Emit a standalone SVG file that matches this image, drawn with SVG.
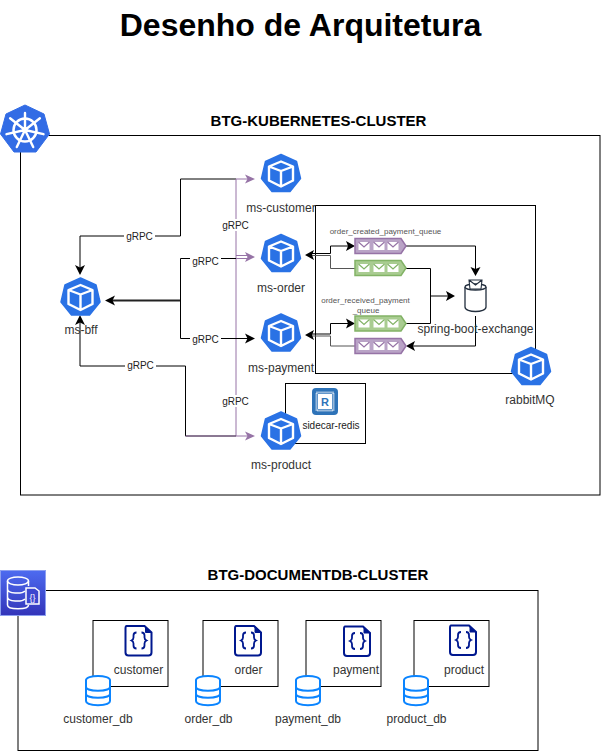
<svg xmlns="http://www.w3.org/2000/svg" width="601" height="751" viewBox="0 0 601 751">
<style>
text{font-family:"Liberation Sans",Arial,sans-serif;fill:#1a1a1a;text-anchor:middle}
.t{font-size:12px;fill:#333}
.g{font-size:10px;fill:#222}
.h{font-size:15px;font-weight:bold;fill:#000}
.q{font-size:8px;fill:#555}
.box{fill:none;stroke:#000;stroke-width:1}
.ln{fill:none;stroke:#000;stroke-width:1}
.gr{fill:none;stroke:#555;stroke-width:1}
.pu{fill:none;stroke:#9673a6;stroke-width:1}
.lb{fill:#fff;stroke:none}
.ah{fill:#000}
.ap{fill:#9673a6}
</style>
<defs>
<linearGradient id="ddb" x1="0" y1="0" x2="0" y2="1"><stop offset="0" stop-color="#4d6bf0"/><stop offset="1" stop-color="#3334b9"/></linearGradient>
<g id="kube">
<path d="M0-19 L15.500-12 L19.500 5 L9 18 L-9 18 L-19.500 5 L-15.500-12Z" fill="#2a72e5" stroke="#2a72e5" stroke-width="1.500" stroke-linejoin="round"/>
<path d="M0-12 L12-7 L12 7 L0 13 L-12 7 L-12-7Z M0-2.500 L0 13 M-12-7 L0-2.500 L12-7" fill="none" stroke="#fff" stroke-width="2.400" stroke-linejoin="round"/>
</g>
<g id="env">
<rect x="-5.500" y="-4" width="11" height="8" fill="#fff"/>
<path d="M-5.500-4 L0 1 L5.500-4" fill="none" stroke="currentColor" stroke-width="1.200"/>
</g>
<g id="qp" color="#9673a6">
<path d="M0 0 H46 L51 7.500 L46 15 H0Z" fill="#b9a3c6" stroke="#9673a6" stroke-width="1.500"/>
<use href="#env" x="9" y="7.500"/><use href="#env" x="24" y="7.500"/><use href="#env" x="38" y="7.500"/>
</g>
<g id="qg" color="#82b366">
<path d="M0 0 H46 L51 7.500 L46 15 H0Z" fill="#a9cc91" stroke="#82b366" stroke-width="1.500"/>
<use href="#env" x="9" y="7.500"/><use href="#env" x="24" y="7.500"/><use href="#env" x="38" y="7.500"/>
</g>
<g id="db">
<ellipse cx="0" cy="-10.500" rx="12" ry="4" fill="#fff" stroke="#0a84ff" stroke-width="2"/>
<path d="M-12-10.500 V10.500 C-12 16 12 16 12 10.500 V-10.500 M-12-3.500 C-12 1.500 12 1.500 12-3.500 M-12 3.500 C-12 8.500 12 8.500 12 3.500" fill="#fff" stroke="#0a84ff" stroke-width="2"/>
</g>
<g id="doc">
<path d="M-12-14.500 H6 L13-8 V12 Q13 15 10 15 H-10 Q-13 15 -13 12 V-12 Q-13-14.500 -12-14.500Z" fill="#fff" stroke="#00188f" stroke-width="2"/>
<path d="M7-14 V-8 H13Z" fill="#00188f" stroke="#00188f"/>
<path d="M-2-8 Q-5-8 -5-5 V-3 Q-5-1 -7 0 Q-5 1 -5 3 V5 Q-5 8 -2 8 M3-8 Q6-8 6-5 V-3 Q6-1 8 0 Q6 1 6 3 V5 Q6 8 3 8" fill="none" stroke="#00188f" stroke-width="1.800"/>
</g>
</defs>
<rect width="601" height="751" fill="#fff"/>
<text x="300.500" y="36" style="font-size:32px;font-weight:bold;fill:#000">Desenho de Arquitetura</text>

<g id="kubernetes-cluster">
<rect class="box" x="20.500" y="135.500" width="579.500" height="359.500"/>
<text class="h" x="318.500" y="126">BTG-KUBERNETES-CLUSTER</text>
<path d="M25 105 L44 114 L49.500 134 L36 152 L14 152 L0.500 134 L6 114Z" fill="#326ce5" stroke="#326ce5" stroke-linejoin="round"/>
<g fill="none" stroke="#fff">
<circle cx="25" cy="130" r="11.500" stroke-width="2.500"/>
<circle cx="25" cy="130" r="2.500" fill="#fff" stroke="none"/>
<path d="M25 130 V113 M25 130 L39.900 118.200 M25 130 L43.500 134.200 M25 130 L33.200 147.100 M25 130 L16.800 147.100 M25 130 L6.500 134.200 M25 130 L10.100 118.200" stroke-width="2.400" stroke-linecap="round"/>
</g>
</g>

<g id="rabbitmq-box"><rect class="box" x="315.500" y="205.500" width="220" height="168"/></g>
<g id="redis-box"><rect class="box" x="285.500" y="383.500" width="80" height="60"/></g>
<g id="documentdb-cluster">
<rect class="box" x="18" y="590.500" width="520" height="160"/>
<text class="h" x="318" y="580">BTG-DOCUMENTDB-CLUSTER</text>
</g>

<g id="connectors">
<path class="ln" d="M80 268 V236 H180.500 V179 H236"/>
<path class="pu" d="M236 179 H248"/>
<path class="ah" d="M80 275 L75 265 L80 267.500 L85 265Z"/>
<path class="ap" d="M255 179 L245 174.500 L247.500 179 L245 183.500Z"/>
<path class="pu" d="M236 179 V436"/>
<path d="M112 300.500 H180.500" fill="none" stroke="#222" stroke-width="2"/>
<path class="ah" d="M105 300.500 L115 295.500 L112.500 300.500 L115 305.500Z"/>
<path class="ln" d="M180.500 258.500 V338.500 H249"/>
<path class="ln" d="M180.500 258.500 H236"/>
<path class="pu" d="M236 255.500 H248 M236 258.500 H248"/>
<path class="ap" d="M255 257 L245 252 L247.500 257 L245 262Z"/>
<path class="ah" d="M255 338.500 L245 333.500 L247.500 338.500 L245 343.500Z"/>
<path class="ln" d="M80 322 V366 H185.500 V436 H236"/>
<path class="ah" d="M80 315 L75 325 L80 322.500 L85 325Z"/>
<path class="pu" d="M185.500 436 H248"/>
<path class="ap" d="M255 436 L245 431.500 L247.500 436 L245 440.500Z"/>
<rect class="lb" x="124" y="230" width="31" height="12"/>
<rect class="lb" x="220" y="219" width="31" height="12"/>
<rect class="lb" x="190" y="255" width="31" height="12"/>
<rect class="lb" x="190" y="333" width="31" height="12"/>
<rect class="lb" x="125" y="359" width="31" height="12"/>
<rect class="lb" x="220" y="395" width="31" height="12"/>
<text class="g" x="139.500" y="240">gRPC</text>
<text class="g" x="235.500" y="229">gRPC</text>
<text class="g" x="205.500" y="265">gRPC</text>
<text class="g" x="205.500" y="343">gRPC</text>
<text class="g" x="140.500" y="369">gRPC</text>
<text class="g" x="235.500" y="405">gRPC</text>

<path class="ln" d="M312 253.500 H330.500 V246 H349"/>
<path class="ah" d="M355 246 L346 241 L348 246 L346 251Z"/>
<path class="gr" d="M312 255.500 H330.500 V268.500 H355"/>
<path class="ah" d="M305 255 L314 250 L312 255 L314 260Z"/>
<path class="ln" d="M405 246 H475.500 V269"/>
<path class="ah" d="M475.500 276 L470.500 267 L475.500 269 L480.500 267Z"/>
<path class="ln" d="M405 268.500 H430.500 V323.500 H405"/>
<path class="ln" d="M430.500 296 H449"/>
<path class="ah" d="M455 296 L446 291 L448 296 L446 301Z"/>
<path class="ln" d="M312 334 H330.500 V323.500 H349"/>
<path class="ah" d="M355 323.500 L346 318.500 L348 323.500 L346 328.500Z"/>
<path class="gr" d="M312 336 H330.500 V346 H355"/>
<path class="ah" d="M305 335 L314 330 L312 335 L314 340Z"/>
<path class="ln" d="M475.500 316 V346 H412"/>
<path class="ah" d="M406 346 L415 341 L413 346 L415 351Z"/>
</g>

<g id="ms-customer"><use href="#kube" x="281" y="173.500"/><text class="t" x="281" y="212">ms-customer</text></g>
<g id="ms-order"><use href="#kube" x="281" y="253.500"/><text class="t" x="281" y="292">ms-order</text></g>
<g id="ms-payment"><use href="#kube" x="281" y="333"/><text class="t" x="281" y="372">ms-payment</text></g>
<g id="ms-product"><use href="#kube" x="281" y="431"/><text class="t" x="281" y="469">ms-product</text></g>
<g id="ms-bff"><use href="#kube" x="80.500" y="297"/><text class="t" x="81" y="334">ms-bff</text></g>
<g id="rabbitmq"><use href="#kube" x="531" y="366.500"/><text class="t" x="530" y="404">rabbitMQ</text></g>

<g id="queue-created"><use href="#qp" x="355" y="238.500"/><text class="q" x="385.500" y="234">order_created_payment_queue</text></g>
<g id="queue-green-1"><use href="#qg" x="355" y="260.500"/></g>
<g id="queue-received"><use href="#qg" x="355" y="316"/><text class="q" x="365.500" y="303">order_received_payment</text><text class="q" x="366" y="313">_queue</text></g>
<g id="queue-purple-2"><use href="#qp" x="355" y="338.500"/></g>

<g id="spring-boot-exchange">
<path d="M465 287 V307 C465 313 486 313 486 307 V287" fill="#fff" stroke="#232f3e" stroke-width="1.300"/>
<ellipse cx="475.500" cy="287" rx="10.500" ry="3" fill="#fff" stroke="#232f3e" stroke-width="1.300"/>
<path d="M469 280 H482 L481 289 H470Z M469 280 L475.500 285 L482 280" fill="#fff" stroke="#232f3e" stroke-width="1.100"/>
<text class="t" x="475.500" y="333">spring-boot-exchange</text>
</g>

<g id="sidecar-redis">
<rect x="312" y="388" width="26" height="27" rx="4" fill="#2e73b8"/>
<rect x="316.500" y="392.500" width="17" height="18" fill="none" stroke="#fff" stroke-width="2" stroke-dasharray="1 1"/>
<rect x="318" y="394" width="14" height="15" fill="#fff"/>
<text x="325" y="406" style="font-size:11px;font-weight:bold;fill:#2e73b8">R</text>
<text x="331" y="429" style="font-size:10px;fill:#222">sidecar-redis</text>
</g>

<g id="documentdb-icon">
<rect x="0.500" y="570.500" width="45" height="45" fill="url(#ddb)" stroke="#8c9ff0"/>
<g fill="none" stroke="#fff" stroke-width="1.500">
<ellipse cx="18" cy="581" rx="10.500" ry="4"/>
<path d="M7.500 581 V605 C7.500 610 28.500 610 28.500 605 M7.500 589 C7.500 594 22 594 25 591 M7.500 597 C7.500 602 22 602 25 599 M28.500 581 V586"/>
<path d="M26 591 V604 H39 V591 L35 588 H26Z" fill="#3d47cf"/>
<text x="32.500" y="601" style="font-size:9px;fill:#fff;stroke:none">{}</text>
</g>
</g>

<g id="customer">
<rect class="box" x="93" y="620.500" width="75" height="66"/>
<use href="#doc" x="138.500" y="640.500"/>
<text class="t" x="138.500" y="674">customer</text>
<use href="#db" x="98" y="690.500"/>
<text class="t" x="98" y="723">customer_db</text>
</g>
<g id="order">
<rect class="box" x="203" y="620.500" width="75" height="66"/>
<use href="#doc" x="248" y="640.500"/>
<text class="t" x="248.500" y="674">order</text>
<use href="#db" x="208" y="690.500"/>
<text class="t" x="208.500" y="723">order_db</text>
</g>
<g id="payment">
<rect class="box" x="306" y="620.500" width="75" height="66"/>
<use href="#doc" x="357" y="641"/>
<text class="t" x="356" y="674">payment</text>
<use href="#db" x="308" y="690.500"/>
<text class="t" x="308" y="723">payment_db</text>
</g>
<g id="product">
<rect class="box" x="414" y="620.500" width="75" height="66"/>
<use href="#doc" x="463" y="640"/>
<text class="t" x="464" y="674">product</text>
<use href="#db" x="416" y="690.500"/>
<text class="t" x="416.500" y="723">product_db</text>
</g>
</svg>
